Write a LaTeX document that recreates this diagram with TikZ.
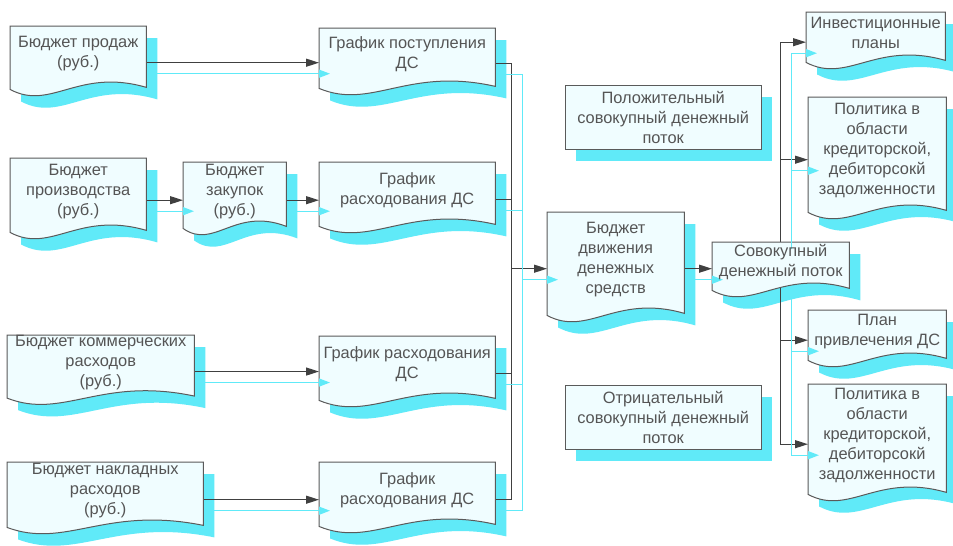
\documentclass[tikz,border=0pt]{standalone}
\usepackage{fontspec}
\setmainfont{Liberation Sans}
\usetikzlibrary{arrows.meta,calc}

\pgfdeclarelayer{paperlayer}
\pgfdeclarelayer{shadowlayer}
\pgfdeclarelayer{connlayer}
\pgfdeclarelayer{bodylayer}
\pgfdeclarelayer{glowlayer}
\pgfsetlayers{paperlayer,shadowlayer,connlayer,bodylayer,glowlayer,main}

\definecolor{docfill}{RGB}{240,253,255}
\definecolor{docline}{RGB}{90,90,90}
\definecolor{docshadow}{RGB}{96,234,248}
\definecolor{linkdark}{RGB}{64,64,64}
\definecolor{textgray}{RGB}{85,85,85}

\tikzset{
  boxtext/.style={anchor=north west, inner sep=0pt, align=center, text=textgray,
    font=\fontsize{16.4}{20}\selectfont},
  docbody/.style={fill=docfill, draw=docline, line width=1pt},
  shadowfill/.style={fill=docshadow},
  darklink/.style={draw=linkdark, line width=1.2pt},
  darkarrow/.style={darklink, -{Triangle[length=13pt,width=8pt]}},
  glowlink/.style={draw=docshadow, line width=1.4pt,
    transform canvas={shift={(11pt,-11pt)}}},
  glowarrow/.style={glowlink, -{Triangle[length=11pt,width=8pt]}},
}

% document outline: flat top, sides, wavy bottom edge
\newcommand\wavepath[1]{(#1.north west) -- (#1.north east) -- ([yshift=-6pt]#1.south east)
  .. controls ($(#1.south west)!0.5!(#1.south east)+(0pt,14pt)$)
  and ($(#1.south west)!0.3!(#1.south east)+(0pt,-30pt)$) .. ([yshift=-8pt]#1.south west) -- cycle}

% name, left, top, width, side height, text
\newcommand\mkdoc[6]{%
  \node[boxtext, minimum width=#4pt, minimum height=#5pt-8pt] (#1) at (#2,#3) {#6};
  \begin{pgfonlayer}{shadowlayer}
    \fill[shadowfill, transform canvas={shift={(11pt,-12pt)}}] \wavepath{#1};
  \end{pgfonlayer}
  \begin{pgfonlayer}{bodylayer}
    \filldraw[docbody] \wavepath{#1};
  \end{pgfonlayer}
}

% plain rectangle with the same drop shadow
\newcommand\mkrect[6]{%
  \node[boxtext, minimum width=#4pt, minimum height=#5pt] (#1) at (#2,#3) {#6};
  \begin{pgfonlayer}{shadowlayer}
    \fill[shadowfill, transform canvas={shift={(11pt,-12pt)}}] (#1.north west) rectangle (#1.south east);
  \end{pgfonlayer}
  \begin{pgfonlayer}{bodylayer}
    \filldraw[docbody] (#1.north west) rectangle (#1.south east);
  \end{pgfonlayer}
}

\begin{document}
\begin{tikzpicture}[x=1pt,y=-1pt]
\begin{pgfonlayer}{paperlayer}
  \fill[white] (0,0) rectangle (953,546);
\end{pgfonlayer}
\useasboundingbox (0,0) rectangle (953,546);

% budgets and cash schedules
\mkdoc{prod}{10}{26}{136}{63}{Бюджет продаж\\(руб.)}
\mkdoc{post}{319}{28}{176}{60}{График поступления\\ДС}
\mkdoc{proizv}{10}{158}{136}{74}{Бюджет\\производства\\(руб.)}
\mkdoc{zakup}{183}{162}{103}{66}{Бюджет\\закупок\\(руб.)}
\mkdoc{rashA}{319}{162}{176}{64}{График\\расходования ДС}
\mkdoc{kommer}{7}{335}{187}{62}{Бюджет коммерческих\\расходов\\(руб.)}
\mkdoc{rashB}{319}{336}{176}{64}{График расходования\\ДС}
\mkdoc{naklad}{7}{462}{196}{65}{Бюджет накладных\\расходов\\(руб.)}
\mkdoc{rashC}{319}{462}{176}{64}{График\\расходования ДС}

% cash flow budget and total flow
\mkdoc{bdds}{547}{212}{137}{103}{Бюджет\\движения\\денежных\\средств}
\mkdoc{sov}{712}{242}{137}{48}{Совокупный\\денежный поток}

% decisions on the total flow
\mkdoc{inv}{806}{12}{139}{50}{Инвестиционные\\планы}
\mkdoc{polA}{808}{97}{138}{115}{Политика в\\области\\кредиторской,\\дебиторсокй\\задолженности}
\mkdoc{plan}{808}{310}{138}{50}{План\\привлечения ДС}
\mkdoc{polB}{808}{384}{138}{110}{Политика в\\области\\кредиторской,\\дебиторсокй\\задолженности}

\mkrect{plus}{565}{85}{196}{64}{Положительный\\совокупный денежный\\поток}
\mkrect{minus}{565}{385}{196}{64}{Отрицательный\\совокупный денежный\\поток}

% connection points
\coordinate (o-prod)   at ($(prod.east)+(0,9)$);
\coordinate (o-proizv) at ($(proizv.east)+(0,9)$);
\coordinate (o-zakup)  at ($(zakup.east)+(0,9)$);
\coordinate (o-kommer) at ($(kommer.east)+(0,9)$);
\coordinate (o-naklad) at ($(naklad.east)+(0,9)$);
\coordinate (o-post)   at ($(post.east)+(0,9)$);
\coordinate (o-rashA)  at ($(rashA.east)+(0,9)$);
\coordinate (o-rashB)  at ($(rashB.east)+(0,9)$);
\coordinate (o-rashC)  at ($(rashC.east)+(0,9)$);
\coordinate (i-bdds)   at ($(bdds.west)+(0,9)$);
\coordinate (o-bdds)   at ($(bdds.east)+(0,9)$);
\coordinate (i-inv)    at ($(inv.west)+(0,9)$);
\coordinate (i-polA)   at ($(polA.west)+(0,9)$);
\coordinate (i-plan)   at ($(plan.west)+(0,9)$);
\coordinate (i-polB)   at ($(polB.west)+(0,9)$);
\coordinate (bus)      at ($(post.east)+(16,0)$);

% dark connectors
\begin{pgfonlayer}{connlayer}
  \draw[darkarrow] (o-prod) -- (o-prod -| post.west);
  \draw[darkarrow] (o-proizv) -- (o-proizv -| zakup.west);
  \draw[darkarrow] (o-zakup) -- (o-zakup -| rashA.west);
  \draw[darkarrow] (o-kommer) -- (o-kommer -| rashB.west);
  \draw[darkarrow] (o-naklad) -- (o-naklad -| rashC.west);
  \draw[darklink] (o-post) -- (o-post -| bus) -- (o-rashC -| bus) -- (o-rashC);
  \draw[darklink] (o-rashA) -- (o-rashA -| bus);
  \draw[darklink] (o-rashB) -- (o-rashB -| bus);
  \draw[darkarrow] (i-bdds -| bus) -- (i-bdds);
  \draw[darkarrow] (o-bdds) -- (o-bdds -| sov.west);
  \draw[darkarrow] (sov.center) |- (i-inv);
  \draw[darkarrow] (sov.center) |- (i-polA);
  \draw[darkarrow] (sov.center) |- (i-plan);
  \draw[darkarrow] (sov.center) |- (i-polB);
\end{pgfonlayer}

% cyan connector shadows
\begin{pgfonlayer}{glowlayer}
  \draw[glowarrow] (o-prod) -- (o-prod -| post.west);
  \draw[glowarrow] (o-proizv) -- (o-proizv -| zakup.west);
  \draw[glowarrow] (o-zakup) -- (o-zakup -| rashA.west);
  \draw[glowarrow] (o-kommer) -- (o-kommer -| rashB.west);
  \draw[glowarrow] (o-naklad) -- (o-naklad -| rashC.west);
  \draw[glowlink] (o-post) -- (o-post -| bus) -- (o-rashC -| bus) -- (o-rashC);
  \draw[glowlink] (o-rashA) -- (o-rashA -| bus);
  \draw[glowlink] (o-rashB) -- (o-rashB -| bus);
  \draw[glowarrow] (i-bdds -| bus) -- (i-bdds);
  \draw[glowarrow] (o-bdds) -- (o-bdds -| sov.west);
  \draw[glowarrow] ($(sov.north)+(0,-4)$) |- (i-inv);
  \draw[glowarrow] ($(sov.north)+(0,-4)$) |- (i-polA);
  \draw[glowarrow] (sov.south) |- (i-plan);
  \draw[glowarrow] (sov.south) |- (i-polB);
\end{pgfonlayer}
\end{tikzpicture}
\end{document}
